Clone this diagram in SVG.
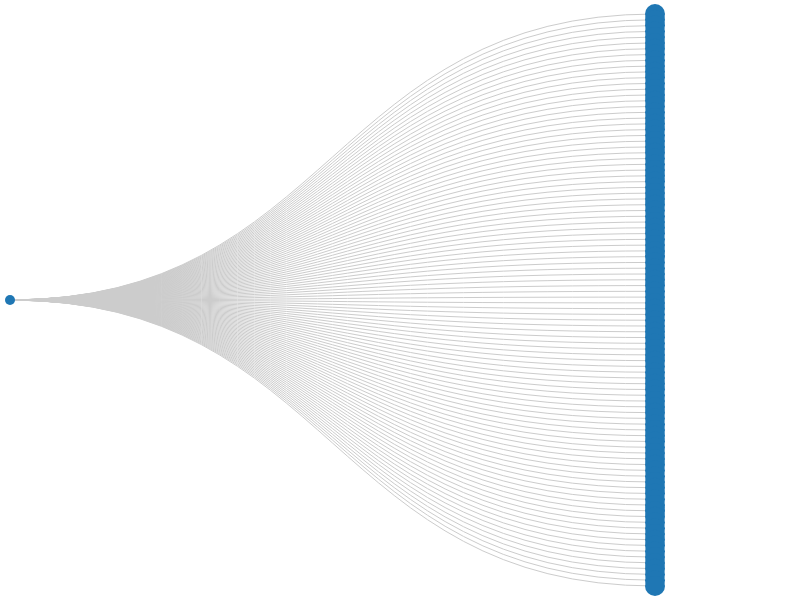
<svg xmlns="http://www.w3.org/2000/svg" width="805" height="600" viewBox="0 0 805 600">
<style>
.link{fill:none;stroke:#ccc;stroke-width:1}
.node{fill:#1f77b4}
</style>
<rect width="805" height="600" fill="#fff"/>
<g id="links">
<path class="link" d="M10,300C332.5,300 332.5,14 655,14"/>
<path class="link" d="M10,300C332.5,300 332.5,19.78 655,19.78"/>
<path class="link" d="M10,300C332.5,300 332.5,25.56 655,25.56"/>
<path class="link" d="M10,300C332.5,300 332.5,31.33 655,31.33"/>
<path class="link" d="M10,300C332.5,300 332.5,37.11 655,37.11"/>
<path class="link" d="M10,300C332.5,300 332.5,42.89 655,42.89"/>
<path class="link" d="M10,300C332.5,300 332.5,48.67 655,48.67"/>
<path class="link" d="M10,300C332.5,300 332.5,54.44 655,54.44"/>
<path class="link" d="M10,300C332.5,300 332.5,60.22 655,60.22"/>
<path class="link" d="M10,300C332.5,300 332.5,66 655,66"/>
<path class="link" d="M10,300C332.5,300 332.5,71.78 655,71.78"/>
<path class="link" d="M10,300C332.5,300 332.5,77.56 655,77.56"/>
<path class="link" d="M10,300C332.5,300 332.5,83.33 655,83.33"/>
<path class="link" d="M10,300C332.5,300 332.5,89.11 655,89.11"/>
<path class="link" d="M10,300C332.5,300 332.5,94.89 655,94.89"/>
<path class="link" d="M10,300C332.5,300 332.5,100.67 655,100.67"/>
<path class="link" d="M10,300C332.5,300 332.5,106.44 655,106.44"/>
<path class="link" d="M10,300C332.5,300 332.5,112.22 655,112.22"/>
<path class="link" d="M10,300C332.5,300 332.5,118 655,118"/>
<path class="link" d="M10,300C332.5,300 332.5,123.78 655,123.78"/>
<path class="link" d="M10,300C332.5,300 332.5,129.56 655,129.56"/>
<path class="link" d="M10,300C332.5,300 332.5,135.33 655,135.33"/>
<path class="link" d="M10,300C332.5,300 332.5,141.11 655,141.11"/>
<path class="link" d="M10,300C332.5,300 332.5,146.89 655,146.89"/>
<path class="link" d="M10,300C332.5,300 332.5,152.67 655,152.67"/>
<path class="link" d="M10,300C332.5,300 332.5,158.44 655,158.44"/>
<path class="link" d="M10,300C332.5,300 332.5,164.22 655,164.22"/>
<path class="link" d="M10,300C332.5,300 332.5,170 655,170"/>
<path class="link" d="M10,300C332.5,300 332.5,175.78 655,175.78"/>
<path class="link" d="M10,300C332.5,300 332.5,181.56 655,181.56"/>
<path class="link" d="M10,300C332.5,300 332.5,187.33 655,187.33"/>
<path class="link" d="M10,300C332.5,300 332.5,193.11 655,193.11"/>
<path class="link" d="M10,300C332.5,300 332.5,198.89 655,198.89"/>
<path class="link" d="M10,300C332.5,300 332.5,204.67 655,204.67"/>
<path class="link" d="M10,300C332.5,300 332.5,210.44 655,210.44"/>
<path class="link" d="M10,300C332.5,300 332.5,216.22 655,216.22"/>
<path class="link" d="M10,300C332.5,300 332.5,222 655,222"/>
<path class="link" d="M10,300C332.5,300 332.5,227.78 655,227.78"/>
<path class="link" d="M10,300C332.5,300 332.5,233.56 655,233.56"/>
<path class="link" d="M10,300C332.5,300 332.5,239.33 655,239.33"/>
<path class="link" d="M10,300C332.5,300 332.5,245.11 655,245.11"/>
<path class="link" d="M10,300C332.5,300 332.5,250.89 655,250.89"/>
<path class="link" d="M10,300C332.5,300 332.5,256.67 655,256.67"/>
<path class="link" d="M10,300C332.5,300 332.5,262.44 655,262.44"/>
<path class="link" d="M10,300C332.5,300 332.5,268.22 655,268.22"/>
<path class="link" d="M10,300C332.5,300 332.5,274 655,274"/>
<path class="link" d="M10,300C332.5,300 332.5,279.78 655,279.78"/>
<path class="link" d="M10,300C332.5,300 332.5,285.56 655,285.56"/>
<path class="link" d="M10,300C332.5,300 332.5,291.33 655,291.33"/>
<path class="link" d="M10,300C332.5,300 332.5,297.11 655,297.11"/>
<path class="link" d="M10,300C332.5,300 332.5,302.89 655,302.89"/>
<path class="link" d="M10,300C332.5,300 332.5,308.67 655,308.67"/>
<path class="link" d="M10,300C332.5,300 332.5,314.44 655,314.44"/>
<path class="link" d="M10,300C332.5,300 332.5,320.22 655,320.22"/>
<path class="link" d="M10,300C332.5,300 332.5,326 655,326"/>
<path class="link" d="M10,300C332.5,300 332.5,331.78 655,331.78"/>
<path class="link" d="M10,300C332.5,300 332.5,337.56 655,337.56"/>
<path class="link" d="M10,300C332.5,300 332.5,343.33 655,343.33"/>
<path class="link" d="M10,300C332.5,300 332.5,349.11 655,349.11"/>
<path class="link" d="M10,300C332.5,300 332.5,354.89 655,354.89"/>
<path class="link" d="M10,300C332.5,300 332.5,360.67 655,360.67"/>
<path class="link" d="M10,300C332.5,300 332.5,366.44 655,366.44"/>
<path class="link" d="M10,300C332.5,300 332.5,372.22 655,372.22"/>
<path class="link" d="M10,300C332.5,300 332.5,378 655,378"/>
<path class="link" d="M10,300C332.5,300 332.5,383.78 655,383.78"/>
<path class="link" d="M10,300C332.5,300 332.5,389.56 655,389.56"/>
<path class="link" d="M10,300C332.5,300 332.5,395.33 655,395.33"/>
<path class="link" d="M10,300C332.5,300 332.5,401.11 655,401.11"/>
<path class="link" d="M10,300C332.5,300 332.5,406.89 655,406.89"/>
<path class="link" d="M10,300C332.5,300 332.5,412.67 655,412.67"/>
<path class="link" d="M10,300C332.5,300 332.5,418.44 655,418.44"/>
<path class="link" d="M10,300C332.5,300 332.5,424.22 655,424.22"/>
<path class="link" d="M10,300C332.5,300 332.5,430 655,430"/>
<path class="link" d="M10,300C332.5,300 332.5,435.78 655,435.78"/>
<path class="link" d="M10,300C332.5,300 332.5,441.56 655,441.56"/>
<path class="link" d="M10,300C332.5,300 332.5,447.33 655,447.33"/>
<path class="link" d="M10,300C332.5,300 332.5,453.11 655,453.11"/>
<path class="link" d="M10,300C332.5,300 332.5,458.89 655,458.89"/>
<path class="link" d="M10,300C332.5,300 332.5,464.67 655,464.67"/>
<path class="link" d="M10,300C332.5,300 332.5,470.44 655,470.44"/>
<path class="link" d="M10,300C332.5,300 332.5,476.22 655,476.22"/>
<path class="link" d="M10,300C332.5,300 332.5,482 655,482"/>
<path class="link" d="M10,300C332.5,300 332.5,487.78 655,487.78"/>
<path class="link" d="M10,300C332.5,300 332.5,493.56 655,493.56"/>
<path class="link" d="M10,300C332.5,300 332.5,499.33 655,499.33"/>
<path class="link" d="M10,300C332.5,300 332.5,505.11 655,505.11"/>
<path class="link" d="M10,300C332.5,300 332.5,510.89 655,510.89"/>
<path class="link" d="M10,300C332.5,300 332.5,516.67 655,516.67"/>
<path class="link" d="M10,300C332.5,300 332.5,522.44 655,522.44"/>
<path class="link" d="M10,300C332.5,300 332.5,528.22 655,528.22"/>
<path class="link" d="M10,300C332.5,300 332.5,534 655,534"/>
<path class="link" d="M10,300C332.5,300 332.5,539.78 655,539.78"/>
<path class="link" d="M10,300C332.5,300 332.5,545.56 655,545.56"/>
<path class="link" d="M10,300C332.5,300 332.5,551.33 655,551.33"/>
<path class="link" d="M10,300C332.5,300 332.5,557.11 655,557.11"/>
<path class="link" d="M10,300C332.5,300 332.5,562.89 655,562.89"/>
<path class="link" d="M10,300C332.5,300 332.5,568.67 655,568.67"/>
<path class="link" d="M10,300C332.5,300 332.5,574.44 655,574.44"/>
<path class="link" d="M10,300C332.5,300 332.5,580.22 655,580.22"/>
<path class="link" d="M10,300C332.5,300 332.5,586 655,586"/>
</g>
<g id="nodes">
<g id="root"><circle class="node" cx="10" cy="300" r="5"/></g>
<g id="n0"><circle class="node" cx="655" cy="14" r="10"/></g>
<g id="n1"><circle class="node" cx="655" cy="19.78" r="10"/></g>
<g id="n2"><circle class="node" cx="655" cy="25.56" r="10"/></g>
<g id="n3"><circle class="node" cx="655" cy="31.33" r="10"/></g>
<g id="n4"><circle class="node" cx="655" cy="37.11" r="10"/></g>
<g id="n5"><circle class="node" cx="655" cy="42.89" r="10"/></g>
<g id="n6"><circle class="node" cx="655" cy="48.67" r="10"/></g>
<g id="n7"><circle class="node" cx="655" cy="54.44" r="10"/></g>
<g id="n8"><circle class="node" cx="655" cy="60.22" r="10"/></g>
<g id="n9"><circle class="node" cx="655" cy="66" r="10"/></g>
<g id="n10"><circle class="node" cx="655" cy="71.78" r="10"/></g>
<g id="n11"><circle class="node" cx="655" cy="77.56" r="10"/></g>
<g id="n12"><circle class="node" cx="655" cy="83.33" r="10"/></g>
<g id="n13"><circle class="node" cx="655" cy="89.11" r="10"/></g>
<g id="n14"><circle class="node" cx="655" cy="94.89" r="10"/></g>
<g id="n15"><circle class="node" cx="655" cy="100.67" r="10"/></g>
<g id="n16"><circle class="node" cx="655" cy="106.44" r="10"/></g>
<g id="n17"><circle class="node" cx="655" cy="112.22" r="10"/></g>
<g id="n18"><circle class="node" cx="655" cy="118" r="10"/></g>
<g id="n19"><circle class="node" cx="655" cy="123.78" r="10"/></g>
<g id="n20"><circle class="node" cx="655" cy="129.56" r="10"/></g>
<g id="n21"><circle class="node" cx="655" cy="135.33" r="10"/></g>
<g id="n22"><circle class="node" cx="655" cy="141.11" r="10"/></g>
<g id="n23"><circle class="node" cx="655" cy="146.89" r="10"/></g>
<g id="n24"><circle class="node" cx="655" cy="152.67" r="10"/></g>
<g id="n25"><circle class="node" cx="655" cy="158.44" r="10"/></g>
<g id="n26"><circle class="node" cx="655" cy="164.22" r="10"/></g>
<g id="n27"><circle class="node" cx="655" cy="170" r="10"/></g>
<g id="n28"><circle class="node" cx="655" cy="175.78" r="10"/></g>
<g id="n29"><circle class="node" cx="655" cy="181.56" r="10"/></g>
<g id="n30"><circle class="node" cx="655" cy="187.33" r="10"/></g>
<g id="n31"><circle class="node" cx="655" cy="193.11" r="10"/></g>
<g id="n32"><circle class="node" cx="655" cy="198.89" r="10"/></g>
<g id="n33"><circle class="node" cx="655" cy="204.67" r="10"/></g>
<g id="n34"><circle class="node" cx="655" cy="210.44" r="10"/></g>
<g id="n35"><circle class="node" cx="655" cy="216.22" r="10"/></g>
<g id="n36"><circle class="node" cx="655" cy="222" r="10"/></g>
<g id="n37"><circle class="node" cx="655" cy="227.78" r="10"/></g>
<g id="n38"><circle class="node" cx="655" cy="233.56" r="10"/></g>
<g id="n39"><circle class="node" cx="655" cy="239.33" r="10"/></g>
<g id="n40"><circle class="node" cx="655" cy="245.11" r="10"/></g>
<g id="n41"><circle class="node" cx="655" cy="250.89" r="10"/></g>
<g id="n42"><circle class="node" cx="655" cy="256.67" r="10"/></g>
<g id="n43"><circle class="node" cx="655" cy="262.44" r="10"/></g>
<g id="n44"><circle class="node" cx="655" cy="268.22" r="10"/></g>
<g id="n45"><circle class="node" cx="655" cy="274" r="10"/></g>
<g id="n46"><circle class="node" cx="655" cy="279.78" r="10"/></g>
<g id="n47"><circle class="node" cx="655" cy="285.56" r="10"/></g>
<g id="n48"><circle class="node" cx="655" cy="291.33" r="10"/></g>
<g id="n49"><circle class="node" cx="655" cy="297.11" r="10"/></g>
<g id="n50"><circle class="node" cx="655" cy="302.89" r="10"/></g>
<g id="n51"><circle class="node" cx="655" cy="308.67" r="10"/></g>
<g id="n52"><circle class="node" cx="655" cy="314.44" r="10"/></g>
<g id="n53"><circle class="node" cx="655" cy="320.22" r="10"/></g>
<g id="n54"><circle class="node" cx="655" cy="326" r="10"/></g>
<g id="n55"><circle class="node" cx="655" cy="331.78" r="10"/></g>
<g id="n56"><circle class="node" cx="655" cy="337.56" r="10"/></g>
<g id="n57"><circle class="node" cx="655" cy="343.33" r="10"/></g>
<g id="n58"><circle class="node" cx="655" cy="349.11" r="10"/></g>
<g id="n59"><circle class="node" cx="655" cy="354.89" r="10"/></g>
<g id="n60"><circle class="node" cx="655" cy="360.67" r="10"/></g>
<g id="n61"><circle class="node" cx="655" cy="366.44" r="10"/></g>
<g id="n62"><circle class="node" cx="655" cy="372.22" r="10"/></g>
<g id="n63"><circle class="node" cx="655" cy="378" r="10"/></g>
<g id="n64"><circle class="node" cx="655" cy="383.78" r="10"/></g>
<g id="n65"><circle class="node" cx="655" cy="389.56" r="10"/></g>
<g id="n66"><circle class="node" cx="655" cy="395.33" r="10"/></g>
<g id="n67"><circle class="node" cx="655" cy="401.11" r="10"/></g>
<g id="n68"><circle class="node" cx="655" cy="406.89" r="10"/></g>
<g id="n69"><circle class="node" cx="655" cy="412.67" r="10"/></g>
<g id="n70"><circle class="node" cx="655" cy="418.44" r="10"/></g>
<g id="n71"><circle class="node" cx="655" cy="424.22" r="10"/></g>
<g id="n72"><circle class="node" cx="655" cy="430" r="10"/></g>
<g id="n73"><circle class="node" cx="655" cy="435.78" r="10"/></g>
<g id="n74"><circle class="node" cx="655" cy="441.56" r="10"/></g>
<g id="n75"><circle class="node" cx="655" cy="447.33" r="10"/></g>
<g id="n76"><circle class="node" cx="655" cy="453.11" r="10"/></g>
<g id="n77"><circle class="node" cx="655" cy="458.89" r="10"/></g>
<g id="n78"><circle class="node" cx="655" cy="464.67" r="10"/></g>
<g id="n79"><circle class="node" cx="655" cy="470.44" r="10"/></g>
<g id="n80"><circle class="node" cx="655" cy="476.22" r="10"/></g>
<g id="n81"><circle class="node" cx="655" cy="482" r="10"/></g>
<g id="n82"><circle class="node" cx="655" cy="487.78" r="10"/></g>
<g id="n83"><circle class="node" cx="655" cy="493.56" r="10"/></g>
<g id="n84"><circle class="node" cx="655" cy="499.33" r="10"/></g>
<g id="n85"><circle class="node" cx="655" cy="505.11" r="10"/></g>
<g id="n86"><circle class="node" cx="655" cy="510.89" r="10"/></g>
<g id="n87"><circle class="node" cx="655" cy="516.67" r="10"/></g>
<g id="n88"><circle class="node" cx="655" cy="522.44" r="10"/></g>
<g id="n89"><circle class="node" cx="655" cy="528.22" r="10"/></g>
<g id="n90"><circle class="node" cx="655" cy="534" r="10"/></g>
<g id="n91"><circle class="node" cx="655" cy="539.78" r="10"/></g>
<g id="n92"><circle class="node" cx="655" cy="545.56" r="10"/></g>
<g id="n93"><circle class="node" cx="655" cy="551.33" r="10"/></g>
<g id="n94"><circle class="node" cx="655" cy="557.11" r="10"/></g>
<g id="n95"><circle class="node" cx="655" cy="562.89" r="10"/></g>
<g id="n96"><circle class="node" cx="655" cy="568.67" r="10"/></g>
<g id="n97"><circle class="node" cx="655" cy="574.44" r="10"/></g>
<g id="n98"><circle class="node" cx="655" cy="580.22" r="10"/></g>
<g id="n99"><circle class="node" cx="655" cy="586" r="10"/></g>
</g>
</svg>
